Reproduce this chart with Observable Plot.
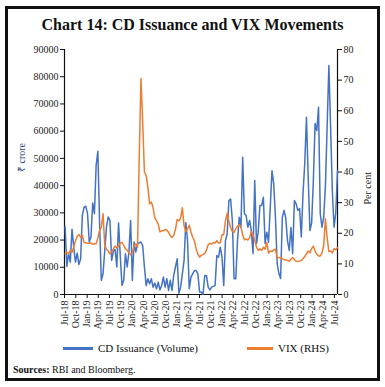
<!DOCTYPE html>
<html><head><meta charset="utf-8">
<script src="https://cdn.jsdelivr.net/npm/d3@7"></script>
<script src="https://cdn.jsdelivr.net/npm/@observablehq/plot@0.6"></script>
<style>
body{margin:0;background:#fff;}
#wrap{position:relative;width:385px;height:387px;font-family:"Liberation Serif",serif;overflow:hidden;background:#fff;color:#111;}
#frame{position:absolute;left:5px;top:6px;width:369px;height:369px;border:3px solid #111;}
#title{position:absolute;top:15px;left:0;width:385px;text-align:center;font-weight:bold;font-size:16px;line-height:20px;}
#chart{position:absolute;left:0;top:40px;}
.lg{position:absolute;top:341px;font-size:11px;line-height:14px;}
.sw{position:absolute;height:3px;top:347px;}
#src{position:absolute;left:13px;top:363px;font-size:10px;line-height:14px;}
</style></head>
<body>
<div id="wrap">
  <div id="frame"></div>
  <div id="title">Chart 14: CD Issuance and VIX Movements</div>
  <div id="chart"></div>
  <div class="sw" style="left:63px;width:30px;background:#4472C4"></div>
  <div class="lg" style="left:98px">CD Issuance (Volume)</div>
  <div class="sw" style="left:247px;width:26px;background:#ED7D31"></div>
  <div class="lg" style="left:278px">VIX (RHS)</div>
  <div id="src"><b>Sources:</b> RBI and Bloomberg.</div>
</div>
<script>
// CD issuance (₹ crore), fortnightly from early Jul-2018
const cdIssuance = [
 25000,10300,15000,11900,24000,17400,11900,15200,11000,13100,
 29100,32100,32400,29700,19300,21100,33600,29700,47500,52600,
 26000,5200,7600,16200,24800,28500,27200,12500,16000,16500,
 10100,26300,14000,3300,5200,15000,10100,15600,27200,5200,
 19300,15600,18700,19000,19300,18000,10100,3300,5800,3900,
 5800,2700,4200,2100,4500,1700,3300,6400,2700,5800,
 1500,5200,1500,7000,10100,13100,500,2700,7600,12500,
 26400,19900,2100,6400,7600,8800,8800,7600,900,900,
 0,7000,6900,2700,1700,2700,3000,3300,14300,13700,
 17400,13700,3300,19800,22300,34500,35100,27200,5800,5800,
 19800,28400,24700,50400,29700,29000,24700,27200,23500,15000,
 41900,18700,22900,32700,32700,35700,18700,22900,19200,32100,
 45500,40700,28400,11400,7700,5900,28400,30900,28000,19800,
 16200,24600,15000,34500,33300,30900,31600,21100,37100,48100,
 65100,43100,23500,26300,41900,62800,60200,68800,29700,24700,
 28400,40000,62000,84100,61400,38200,24700,30000,45500
];
// India VIX (per cent), same fortnights
const vixValues = [
 13.3,13.8,13.3,14.4,13.8,15.5,17.5,19.0,19.6,18.7,
 19.3,17.0,16.9,16.7,16.7,16.8,16.4,16.6,16.6,18.5,
 21.0,22.0,26.4,16.0,14.8,14.2,13.3,13.8,14.9,15.8,
 15.2,15.8,16.8,17.0,16.0,14.9,14.5,13.6,13.0,13.5,
 16.0,16.5,15.5,45.0,70.5,56.0,40.0,38.9,35.1,29.6,
 30.2,28.4,25.1,24.1,23.0,20.5,20.8,20.8,21.2,21.0,
 20.3,19.2,18.6,19.3,21.2,24.5,24.0,25.0,28.3,22.5,
 20.5,21.4,22.6,20.4,18.7,17.6,14.9,13.2,12.2,12.8,
 13.1,13.4,14.5,16.3,16.7,16.5,17.0,16.8,17.6,16.8,
 16.9,19.5,19.5,24.0,26.5,24.0,21.8,20.6,20.3,21.5,
 22.3,22.8,22.0,19.5,17.9,18.1,17.8,18.5,20.7,19.4,
 17.7,15.5,14.4,14.9,14.4,15.4,14.8,17.0,13.5,14.2,
 14.0,14.6,14.8,12.0,12.0,12.1,11.7,11.4,11.3,11.1,
 10.9,11.5,12.1,11.4,10.9,10.8,10.9,11.1,11.7,12.4,
 13.3,14.2,13.6,15.0,15.8,14.1,13.2,12.6,12.6,13.5,
 16.0,24.7,18.5,14.0,14.2,13.6,15.0,14.6,15.3
];
const leftTicks = [0,10000,20000,30000,40000,50000,60000,70000,80000,90000];
const rightTicks = [0,10,20,30,40,50,60,70,80];

const t0 = Date.UTC(2018,6,6);
const dates = cdIssuance.map((_, i) => new Date(t0 + i*14*864e5));
const K = 90000/80;
const data = dates.map((d,i)=>({date:d, cd:cdIssuance[i], vix:vixValues[i]*K}));
const xStart = new Date(Date.UTC(2018,6,1));
const xEnd = dates[dates.length-1];
const qTicks = d3.utcMonth.every(3).range(xStart, new Date(Date.UTC(2024,7,1)));

const chart = Plot.plot({
  width:385, height:295, marginTop:9, marginBottom:41, marginLeft:64, marginRight:48,
  style:{fontFamily:"Liberation Serif", fontSize:"10px", color:"#222", background:"transparent", overflow:"visible"},
  x:{type:"utc", domain:[xStart, xEnd]},
  y:{domain:[0,90000]},
  marks:[
    Plot.axisX({ticks:qTicks, tickFormat:d3.utcFormat("%b-%y"), tickRotate:-90, tickSize:4, tickPadding:2, label:null, stroke:"#111"}),
    Plot.axisY({ticks:leftTicks, tickFormat:d=>String(d), tickSize:4, tickPadding:2, label:null, stroke:"#111"}),
    Plot.axisY({anchor:"right", ticks:rightTicks.map(v=>v*K), tickFormat:d=>String(Math.round(d/K)), tickSize:4, tickPadding:2, label:null, stroke:"#111"}),
    Plot.ruleX([xStart, xEnd], {stroke:"#111", strokeWidth:1.2}),
    Plot.ruleY([0], {stroke:"#111", strokeWidth:1.2}),
    Plot.text(["₹ crore"], {frameAnchor:"left", dx:-43, rotate:-90, fill:"#1f3b73", fontSize:10}),
    Plot.text(["Per cent"], {frameAnchor:"right", dx:30, rotate:-90, fill:"#222", fontSize:10}),
    Plot.lineY(data, {x:"date", y:"cd", stroke:"#4472C4", strokeWidth:1.5}),
    Plot.lineY(data, {x:"date", y:"vix", stroke:"#ED7D31", strokeWidth:1.5})
  ]
});
document.getElementById("chart").appendChild(chart);
</script>
</body></html>
